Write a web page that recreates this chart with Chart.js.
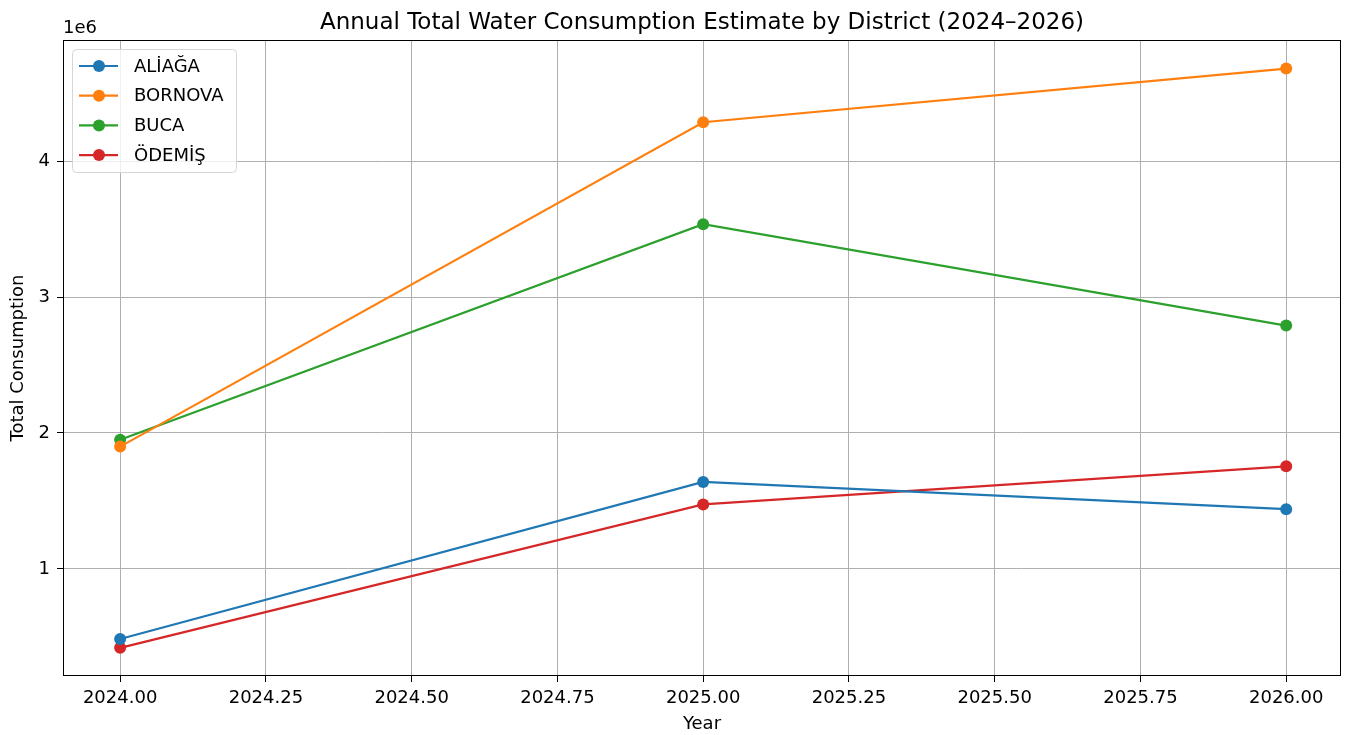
<!DOCTYPE html>
<html>
<head>
<meta charset="utf-8">
<title>Annual Total Water Consumption Estimate by District</title>
<script src="https://cdn.jsdelivr.net/npm/chart.js@4/dist/chart.umd.min.js"></script>
<style>
  html, body { margin: 0; padding: 0; background: #ffffff; }
  canvas { display: block; }
</style>
</head>
<body>
<canvas id="waterChart" width="1347" height="735"></canvas>
<script>
  // Yearly totals per district
  const years = [2024, 2025, 2026];
  const districts = ['ALİAĞA', 'BORNOVA', 'BUCA', 'ÖDEMİŞ'];
  const aliaga  = [485000, 1640000, 1440000];
  const bornova = [1900000, 4285000, 4680000];
  const buca    = [1950000, 3535000, 2790000];
  const odemis  = [420000, 1475000, 1755000];
  const colors  = ['#1f77b4', '#ff7f0e', '#2ca02c', '#d62728'];

  // Tick positions
  const xTicks = [2024, 2024.25, 2024.5, 2024.75, 2025, 2025.25, 2025.5, 2025.75, 2026];
  const yTicks = [1000000, 2000000, 3000000, 4000000];

  const FONT = 'DejaVu Sans';

  function toPoints(values) {
    return years.map((yr, i) => ({ x: yr, y: values[i] }));
  }

  const series = [aliaga, bornova, buca, odemis];

  // frame, title, offset label and legend drawn by hand
  const decorPlugin = {
    id: 'decor',
    afterDatasetsDraw(chart) {
      const ctx = chart.ctx;
      const a = chart.chartArea;
      ctx.save();

      // axes frame
      ctx.strokeStyle = '#000000';
      ctx.lineWidth = 1;
      ctx.strokeRect(Math.round(a.left) + 0.5, Math.round(a.top) + 0.5,
                     Math.round(a.right - a.left) - 1, Math.round(a.bottom - a.top) - 1);

      // title
      ctx.fillStyle = '#000000';
      ctx.font = '23px ' + FONT;
      ctx.textAlign = 'center';
      ctx.textBaseline = 'alphabetic';
      ctx.fillText('Annual Total Water Consumption Estimate by District (2024–2026)', (a.left + a.right) / 2, 29);

      // y offset text
      ctx.font = '18px ' + FONT;
      ctx.textAlign = 'left';
      ctx.fillText('1e6', a.left, 33);

      // legend box
      const bx = a.left + 9, by = a.top + 9, bw = 164, bh = 123;
      ctx.beginPath();
      ctx.roundRect(bx + 0.5, by + 0.5, bw, bh, 4);
      ctx.fillStyle = 'rgba(255,255,255,0.8)';
      ctx.fill();
      ctx.strokeStyle = '#d6d6d6';
      ctx.lineWidth = 1;
      ctx.stroke();

      chart.data.datasets.forEach((ds, i) => {
        const cy = by + 17 + i * 29.7;
        ctx.strokeStyle = ds.borderColor;
        ctx.lineWidth = 2.2;
        ctx.beginPath();
        ctx.moveTo(bx + 7, cy);
        ctx.lineTo(bx + 46, cy);
        ctx.stroke();
        ctx.fillStyle = ds.backgroundColor;
        ctx.beginPath();
        ctx.arc(bx + 27, cy, 6, 0, Math.PI * 2);
        ctx.fill();
        ctx.fillStyle = '#000000';
        ctx.font = '18px ' + FONT;
        ctx.textBaseline = 'middle';
        ctx.fillText(ds.label, bx + 62, cy + 1);
      });
      ctx.restore();
    }
  };

  new Chart(document.getElementById('waterChart'), {
    type: 'line',
    data: {
      datasets: districts.map((name, i) => ({
        label: name,
        data: toPoints(series[i]),
        borderColor: colors[i],
        backgroundColor: colors[i],
        pointBackgroundColor: colors[i],
        pointBorderColor: colors[i],
        pointRadius: 6,
        pointBorderWidth: 0,
        borderWidth: 2.2,
        tension: 0,
        fill: false
      }))
    },
    options: {
      responsive: false,
      animation: false,
      layout: { padding: { left: 0, right: 6, top: 40, bottom: 0 } },
      plugins: {
        legend: { display: false },
        title: { display: false },
        tooltip: { enabled: false }
      },
      scales: {
        x: {
          type: 'linear',
          min: 2023.902,
          max: 2026.094,
          afterBuildTicks: (scale) => { scale.ticks = xTicks.map(v => ({ value: v })); },
          afterFit: (scale) => { scale.height = 59; },
          ticks: {
            color: '#000000',
            font: { family: FONT, size: 18 },
            padding: 6,
            maxRotation: 0,
            autoSkip: false,
            callback: (v) => Number(v).toFixed(2)
          },
          grid: { color: '#b0b0b0', lineWidth: 1, tickColor: '#000000', tickLength: 6 },
          border: { display: false },
          title: {
            display: true, text: 'Year', color: '#000000',
            font: { family: FONT, size: 18 }, padding: { top: 0, bottom: 0 }
          }
        },
        y: {
          min: 213000,
          max: 4890000,
          afterBuildTicks: (scale) => { scale.ticks = yTicks.map(v => ({ value: v })); },
          afterFit: (scale) => { scale.width = 63; },
          ticks: {
            color: '#000000',
            font: { family: FONT, size: 18 },
            padding: 7,
            callback: (v) => String(v / 1000000)
          },
          grid: { color: '#b0b0b0', lineWidth: 1, tickColor: '#000000', tickLength: 6 },
          border: { display: false },
          title: {
            display: true, text: 'Total Consumption', color: '#000000',
            font: { family: FONT, size: 18 }, padding: { top: 8, bottom: 4 }
          }
        }
      }
    },
    plugins: [decorPlugin]
  });
</script>
</body>
</html>
